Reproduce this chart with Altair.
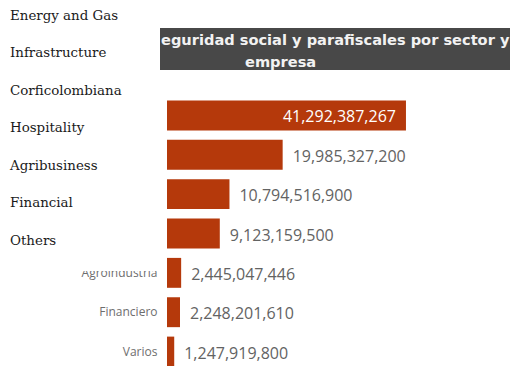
import altair as alt
import pandas as pd

CATEGORIES_ES = ["Energía y Gas", "Infraestructura", "Corficolombiana", "Hotelería",
                 "Agroindustria", "Financiero", "Varios"]
LABELS_EN = ["Energy and Gas", "Infrastructure", "Corficolombiana", "Hospitality",
             "Agribusiness", "Financial", "Others"]
VALUES = [41292387267, 19985327200, 10794516900, 9123159500,
          2445047446, 2248201610, 1247919800]
TITLE_LINES = ["eguridad social y parafiscales por sector y", "empresa"]

df = pd.DataFrame({"cat": CATEGORIES_ES, "en": LABELS_EN, "value": VALUES})

BAR_COLOR = "#B5390B"

y_enc = alt.Y(
    "cat:N", sort=CATEGORIES_ES,
    scale=alt.Scale(range=[0, 275], paddingInner=0.24, paddingOuter=0.114),
    axis=alt.Axis(title=None, domain=False, ticks=False, labelPadding=10,
                  labelFont="Open Sans", labelFontSize=12, labelColor="#6e6e6e"),
)
x_enc = alt.X("value:Q", scale=alt.Scale(domain=[0, 59.27e9]), axis=None)

base = alt.Chart(df)
bars = base.mark_bar(color=BAR_COLOR).encode(x=x_enc, y=y_enc)
lab_out = base.transform_filter(alt.datum.value < 30e9).mark_text(
    align="left", baseline="middle", dx=10, dy=2, font="Open Sans", fontSize=16,
    color="#636363").encode(x=x_enc, y=y_enc, text=alt.Text("value:Q", format=",d"))
lab_in = base.transform_filter(alt.datum.value >= 30e9).mark_text(
    align="right", baseline="middle", dx=-10, dy=2, font="Open Sans", fontSize=16,
    color="white").encode(x=x_enc, y=y_enc, text=alt.Text("value:Q", format=",d"))

one = alt.Data(values=[{}])
cover = alt.Chart(one).mark_rect(color="white").encode(
    x=alt.value(-167), x2=alt.value(-5), y=alt.value(-96), y2=alt.value(175))
tbar = alt.Chart(one).mark_rect(color="#484848").encode(
    x=alt.value(-7), x2=alt.value(343), y=alt.value(-68), y2=alt.value(-26))
t1 = alt.Chart(alt.Data(values=[{"t": TITLE_LINES[0]}])).mark_text(
    align="left", baseline="alphabetic", font="DejaVu Sans", fontWeight="bold",
    fontSize=14.6, color="#f2f2f2").encode(x=alt.value(-6), y=alt.value(-51), text="t:N")
t2 = alt.Chart(alt.Data(values=[{"t": TITLE_LINES[1]}])).mark_text(
    align="left", baseline="alphabetic", font="DejaVu Sans", fontWeight="bold",
    fontSize=14.6, color="#f2f2f2").encode(x=alt.value(78), y=alt.value(-29), text="t:N")

main = alt.layer(bars, lab_out, lab_in, cover, tbar, t1, t2)

en = alt.Chart(df).mark_text(
    align="left", baseline="middle", font="DejaVu Serif", fontSize=13.4, color="#1a1a1a"
).encode(
    x=alt.value(-157),
    y=alt.Y("en:N", sort=LABELS_EN,
            scale=alt.Scale(type="point", range=[-80, 144.5], padding=0), axis=None),
    text="en:N",
)

chart = alt.layer(main, en).resolve_scale(y="independent").properties(
    width=343, height=270,
    autosize=alt.AutoSizeParams(type="none"),
    padding={"left": 167, "top": 96, "right": 0, "bottom": 0},
    background="white",
).configure_view(stroke=None)

chart.save("out.html", embed_options={"renderer": "svg", "actions": False})
